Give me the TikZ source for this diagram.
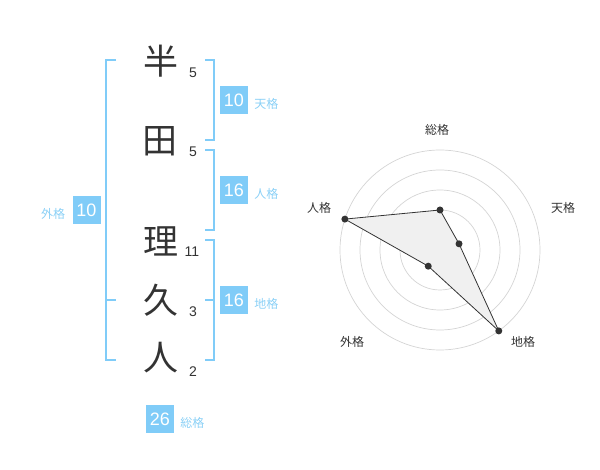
\documentclass[tikz,border=0pt]{standalone}
\usepackage{fontspec}
\setmainfont{Liberation Sans}
\newfontfamily\jpfont{Noto Sans CJK JP}
\usetikzlibrary{positioning}
\definecolor{kakuBlue}{RGB}{128,204,248}
\definecolor{kakuText}{RGB}{138,208,246}
\definecolor{ringGray}{RGB}{212,212,212}
\definecolor{inkGray}{RGB}{51,51,51}
\tikzset{
    kanji/.style={text=inkGray, inner sep=0pt, font=\jpfont\fontsize{35}{35}\selectfont},
    strokes/.style={text=inkGray, inner sep=0pt, font=\fontsize{14}{14}\selectfont},
    kakuBox/.style={fill=kakuBlue, text=white, minimum size=28pt, inner sep=0pt, font=\fontsize{18}{18}\selectfont},
    kakuName/.style={text=kakuText, inner sep=0pt, font=\jpfont\fontsize{12}{12}\selectfont},
    bracket/.style={draw=kakuBlue, line width=2pt},
    axisName/.style={text=inkGray, inner sep=0pt, font=\jpfont\fontsize{12}{12}\selectfont},
    dot/.style={circle, fill=inkGray, inner sep=0pt, minimum size=7pt}
}
\begin{document}
\begin{tikzpicture}[x=1pt, y=-1pt]
	\useasboundingbox (0,0) rectangle (600,470);
	% name and strokes
	\node[kanji] (han) at (161,61) {半};
	\node[kanji] (ta) at (160,141) {田};
	\node[kanji] (ri) at (161,241) {理};
	\node[kanji] (hisa) at (161,300) {久};
	\node[kanji] (hito) at (161,358) {人};
	\node[strokes] (hanN) at (193,73) {5};
	\node[strokes] (taN) at (193,152) {5};
	\node[strokes] (riN) at (192,252) {11};
	\node[strokes] (hisaN) at (193,312) {3};
	\node[strokes] (hitoN) at (193,372) {2};
	% brackets
	\draw[bracket] (116,60) -| (106,360) -- (116,360);
	\draw[bracket] (106,300) -- (116,300);
	\draw[bracket] (205,60) -| (214,140) -- (205,140);
	\draw[bracket] (205,150) -| (214,230) -- (205,230);
	\draw[bracket] (205,240) -| (214,360) -- (205,360);
	\draw[bracket] (205,300) -- (214,300);
	% scores
	\node[kakuBox] (tenBox) at (234,100) {10};
	\node[kakuName, right=6pt of tenBox, yshift=-4pt] (tenName) {天格};
	\node[kakuBox] (jinBox) at (234,190) {16};
	\node[kakuName, right=6pt of jinBox, yshift=-4pt] (jinName) {人格};
	\node[kakuBox] (chiBox) at (234,300) {16};
	\node[kakuName, right=6pt of chiBox, yshift=-4pt] (chiName) {地格};
	\node[kakuBox] (gaiBox) at (86.5,210) {10};
	\node[kakuName, left=7pt of gaiBox, yshift=-4pt] (gaiName) {外格};
	\node[kakuBox] (souBox) at (160,419) {26};
	\node[kakuName, right=6pt of souBox, yshift=-4pt] (souName) {総格};
	% radar
	\begin{scope}[shift={(440,250)}, y=1pt]
		\foreach \r in {20,40,...,100}
			\draw[ringGray, line width=0.7pt] (0,0) circle (\r);
		\fill[black!22] (0,0) circle (3.5);
		\coordinate (souP) at (90:40);
		\coordinate (tenP) at (18:20);
		\coordinate (chiP) at (-54:100);
		\coordinate (gaiP) at (-126:20);
		\coordinate (jinP) at (162:100);
		\filldraw[fill=black!6, draw=inkGray, line width=0.8pt] (souP) -- (tenP) -- (chiP) -- (gaiP) -- (jinP) -- cycle;
		\foreach \p in {souP,tenP,chiP,gaiP,jinP}
			\node[dot] at (\p) {};
		\node[axisName] (souAxis) at (-3,120) {総格};
		\node[axisName] (tenAxis) at (123,42) {天格};
		\node[axisName] (chiAxis) at (83,-92) {地格};
		\node[axisName] (gaiAxis) at (-88,-92) {外格};
		\node[axisName] (jinAxis) at (-121,42) {人格};
	\end{scope}
\end{tikzpicture}
\end{document}
